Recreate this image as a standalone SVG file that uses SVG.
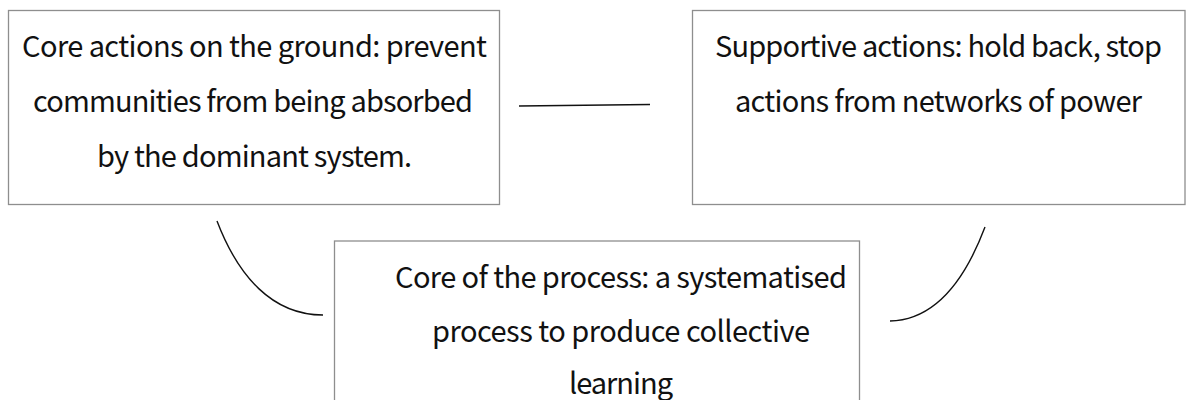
<svg xmlns="http://www.w3.org/2000/svg" width="1188" height="400" viewBox="0 0 1188 400">
  <style>
    .box { fill: #ffffff; stroke: #8e8e8e; stroke-width: 1.3; }
    .label { font-family: "Noto Sans CJK KR", "Noto Sans", sans-serif; font-size: 29px; fill: #111111; text-anchor: middle; }
    .link { fill: none; stroke: #111111; stroke-width: 1.4; }
  </style>
  <rect width="1188" height="400" fill="#ffffff"/>

  <g id="node-core-actions">
    <rect class="box" x="8.5" y="10.5" width="491" height="194"/>
    <text class="label" x="254.5" y="57" textLength="465">Core actions on the ground: prevent</text>
    <text class="label" x="253" y="112" textLength="440">communities from being absorbed</text>
    <text class="label" x="254.5" y="167" textLength="315">by the dominant system.</text>
  </g>

  <g id="node-supportive-actions">
    <rect class="box" x="692.5" y="10.5" width="492.5" height="194"/>
    <text class="label" x="938.5" y="57" textLength="447">Supportive actions: hold back, stop</text>
    <text class="label" x="938.5" y="112" textLength="407">actions from networks of power</text>
  </g>

  <g id="node-core-process">
    <rect class="box" x="334.5" y="241" width="525" height="170"/>
    <text class="label" x="621" y="288" textLength="452">Core of the process: a systematised</text>
    <text class="label" x="621" y="342" textLength="378">process to produce collective</text>
    <text class="label" x="621" y="394" textLength="104">learning</text>
  </g>

  <g id="connectors">
    <path class="link" d="M519,106 L650,104.5"/>
    <path class="link" d="M217,221 C238,276 272,315 323,315"/>
    <path class="link" d="M985,227 C965,280 935,320 890,321"/>
  </g>
</svg>
